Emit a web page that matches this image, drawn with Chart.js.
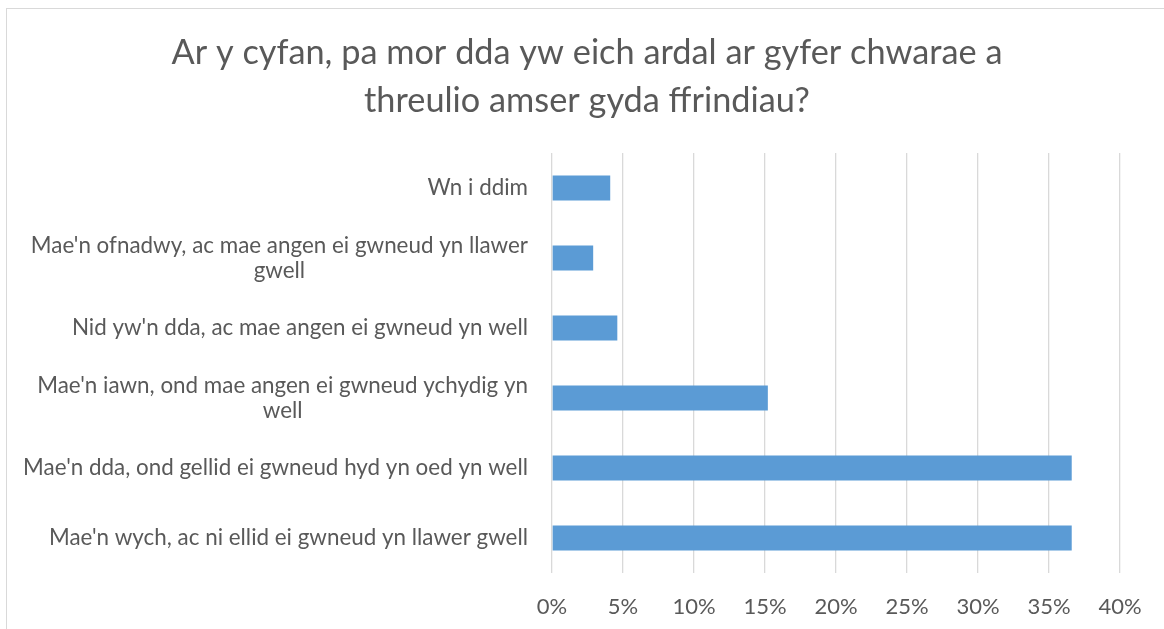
<!DOCTYPE html>
<html>
<head>
<meta charset="utf-8">
<script src="https://cdn.jsdelivr.net/npm/chart.js@4/dist/chart.umd.min.js"></script>
<style>
  html, body { margin: 0; padding: 0; background: #fff; overflow: hidden; }
  #wrap { position: absolute; left: 0; top: 0; width: 1164px; height: 629px; }
  #frame { position: absolute; left: 6px; top: 8px; width: 1170px; height: 640px; border: 1px solid #d9d9d9; pointer-events: none; }
</style>
</head>
<body>
<div id="wrap"><canvas id="c" width="1164" height="629"></canvas></div>
<div id="frame"></div>
<script>
const titleLines = ["Ar y cyfan, pa mor dda yw eich ardal ar gyfer chwarae a", "threulio amser gyda ffrindiau?"];
const categories = [
  ["Wn i ddim"],
  ["Mae'n ofnadwy, ac mae angen ei gwneud yn llawer", "gwell"],
  ["Nid yw'n dda, ac mae angen ei gwneud yn well"],
  ["Mae'n iawn, ond mae angen ei gwneud ychydig yn", "well"],
  ["Mae'n dda, ond gellid ei gwneud hyd yn oed yn well"],
  ["Mae'n wych, ac ni ellid ei gwneud yn llawer gwell"]
];
const values = [4.1, 2.9, 4.6, 15.2, 36.6, 36.6];
const xTicks = [0, 5, 10, 15, 20, 25, 30, 35, 40];

const FONT = "Lato, 'Open Sans', sans-serif";
const TEXT = '#595959';

const yLabelPlugin = {
  id: 'yLabels',
  afterDraw(chart) {
    const ctx = chart.ctx;
    const ys = chart.scales.y;
    const right = chart.chartArea.left - 24;
    ctx.save();
    ctx.font = "22.4px " + FONT;
    ctx.fillStyle = TEXT;
    ctx.textBaseline = 'middle';
    const lh = 25;
    categories.forEach((lines, i) => {
      const yc = ys.getPixelForValue(i);
      let w = 0;
      lines.forEach(l => { w = Math.max(w, ctx.measureText(l).width); });
      const cx = right - w / 2;
      ctx.textAlign = 'center';
      lines.forEach((l, k) => {
        const y = yc + (k - (lines.length - 1) / 2) * lh;
        ctx.fillText(l, cx, y);
      });
    });
    ctx.restore();
  }
};

new Chart(document.getElementById('c'), {
  type: 'bar',
  data: {
    labels: categories,
    datasets: [{
      data: values,
      backgroundColor: '#5b9bd5',
      borderWidth: 0,
      barPercentage: 0.36,
      categoryPercentage: 1
    }]
  },
  options: {
    indexAxis: 'y',
    responsive: false,
    animation: false,
    events: [],
    layout: { padding: { left: 54, right: 44, top: 0, bottom: 0 } },
    plugins: {
      legend: { display: false },
      tooltip: { enabled: false },
      title: {
        display: true,
        text: titleLines,
        color: TEXT,
        font: { family: FONT, size: 34.3, weight: 'normal', lineHeight: 48 / 34.3 },
        padding: { top: 29, bottom: 28 }
      }
    },
    scales: {
      x: {
        min: 0, max: 40,
        afterBuildTicks(scale) { scale.ticks = xTicks.map(v => ({ value: v })); },
        afterFit(scale) { scale.height = 56; },
        grid: { color: '#d9d9d9', lineWidth: 1.3, drawTicks: false },
        border: { display: false },
        ticks: {
          color: TEXT,
          font: { family: FONT, size: 22 },
          padding: 21,
          maxRotation: 0,
          callback: v => v + '%'
        }
      },
      y: {
        afterFit(scale) { scale.width = 498; },
        grid: { display: false },
        border: { display: false },
        ticks: { display: false }
      }
    }
  },
  plugins: [yLabelPlugin]
});
</script>
</body>
</html>
